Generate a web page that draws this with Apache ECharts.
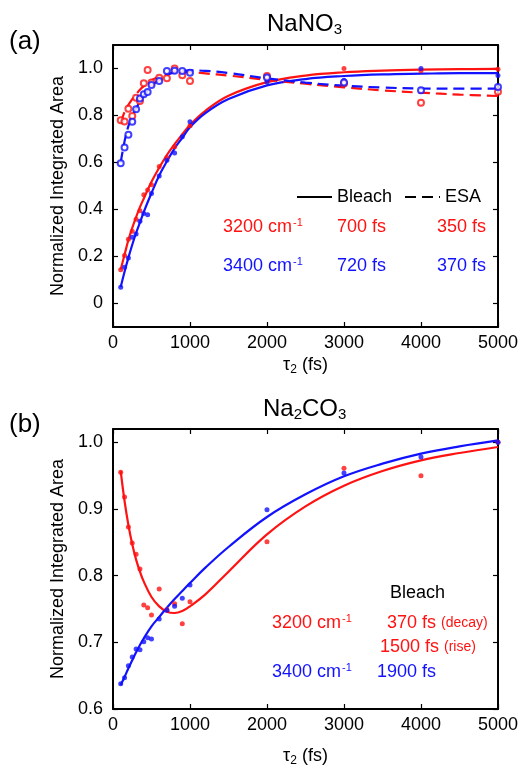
<!DOCTYPE html>
<html>
<head>
<meta charset="utf-8">
<script src="https://cdn.jsdelivr.net/npm/echarts@6/dist/echarts.min.js"></script>
<style>
  html, body { margin: 0; padding: 0; background: #fff; }
  #chart { width: 521px; height: 768px; }
</style>
</head>
<body>
<div id="chart"></div>
<script>
// ---------- Panel (a): NaNO3 ----------
// Bleach (filled dots) measured points
const bleachTimeA = [100, 150, 200, 250, 300, 350, 400, 450, 500, 600, 700, 800, 1000, 2000, 3000, 4000, 5000];
const bleach3200A = [0.144, 0.204, 0.273, 0.307, 0.358, 0.395, 0.463, 0.483, 0.505, 0.583, 0.621, 0.667, 0.756, 0.955, 1.0, 0.99, 0.997];
const bleachTimeB = [100, 150, 200, 250, 300, 350, 400, 450, 500, 600, 700, 800, 900, 1000, 2000, 3000, 4000, 5000];
const bleach3400A = [0.069, 0.154, 0.194, 0.282, 0.296, 0.350, 0.383, 0.378, 0.468, 0.543, 0.610, 0.640, 0.710, 0.773, 0.943, 0.95, 1.0, 0.97];

// ESA (open circles) measured points
const esaTime = [100, 150, 200, 250, 300, 350, 400, 450, 500, 600, 700, 800, 900, 1000, 2000, 3000, 4000, 5000];
const esa3200A = [0.78, 0.774, 0.829, 0.798, 0.876, 0.862, 0.937, 0.994, 0.94, 0.961, 0.958, 1.0, 0.971, 0.947, 0.968, 0.936, 0.854, 0.901];
const esa3400A = [0.597, 0.664, 0.718, 0.773, 0.827, 0.872, 0.89, 0.90, 0.93, 0.947, 0.989, 0.99, 0.989, 0.982, 0.962, 0.94, 0.907, 0.921];

// Fitted curves
const fitTimeA = [100, 150, 200, 250, 300, 350, 400, 500, 600, 700, 800, 900, 1000, 1200, 1500, 2000, 2500, 3000, 3500, 4000, 4500, 5000];
const fitBleach3200A = [0.145, 0.208, 0.27, 0.322, 0.368, 0.41, 0.447, 0.518, 0.578, 0.632, 0.678, 0.72, 0.76, 0.82, 0.884, 0.942, 0.97, 0.984, 0.991, 0.995, 0.997, 0.998];
const fitBleach3400A = [0.07, 0.135, 0.195, 0.25, 0.3, 0.345, 0.39, 0.47, 0.545, 0.605, 0.66, 0.705, 0.75, 0.81, 0.87, 0.928, 0.955, 0.968, 0.975, 0.978, 0.98, 0.98];
const fitEsa3200A = [0.77, 0.815, 0.845, 0.87, 0.89, 0.91, 0.925, 0.95, 0.966, 0.976, 0.982, 0.984, 0.984, 0.979, 0.97, 0.952, 0.935, 0.92, 0.907, 0.897, 0.889, 0.883];
const fitEsa3400A = [0.6, 0.69, 0.755, 0.795, 0.83, 0.86, 0.885, 0.925, 0.953, 0.972, 0.984, 0.99, 0.992, 0.99, 0.981, 0.958, 0.94, 0.927, 0.919, 0.915, 0.914, 0.914];

// ---------- Panel (b): Na2CO3 ----------
const timeB = [100, 150, 200, 250, 300, 350, 400, 450, 500, 600, 700, 800, 900, 1000, 2000, 3000, 4000, 5000];
const bleach3200B = [0.955, 0.918, 0.873, 0.849, 0.832, 0.810, 0.756, 0.752, 0.741, 0.780, 0.749, 0.758, 0.728, 0.761, 0.851, 0.961, 0.950, 1.0];
const bleach3400B = [0.638, 0.647, 0.665, 0.678, 0.690, 0.689, 0.701, 0.707, 0.705, 0.735, 0.748, 0.754, 0.766, 0.786, 0.899, 0.954, 0.978, 1.0];

const fitTimeB = [100, 150, 200, 250, 300, 350, 400, 500, 600, 700, 800, 900, 1000, 1200, 1500, 2000, 2500, 3000, 3500, 4000, 4500, 5000];
const fit3200B = [0.957, 0.912, 0.876, 0.847, 0.824, 0.806, 0.791, 0.768, 0.754, 0.746, 0.744, 0.747, 0.754, 0.772, 0.806, 0.862, 0.904, 0.935, 0.957, 0.973, 0.984, 0.993];
const fit3400B = [0.636, 0.648, 0.661, 0.673, 0.685, 0.696, 0.706, 0.724, 0.738, 0.752, 0.765, 0.777, 0.789, 0.812, 0.843, 0.888, 0.922, 0.949, 0.968, 0.983, 0.994, 1.003];

// Axis tick values
const xTicks = [0, 1000, 2000, 3000, 4000, 5000];
const yTicksA = [0, 0.2, 0.4, 0.6, 0.8, 1.0];
const yTicksB = [0.6, 0.7, 0.8, 0.9, 1.0];

const RED = '#ff1212';
const BLUE = '#1212ff';
const FONT = 'Liberation Sans, Arial, sans-serif';

const zip = (xs, ys) => xs.map((x, i) => [x, ys[i]]);

const chart = echarts.init(document.getElementById('chart'), null, { renderer: 'canvas' });

const frameLine = { show: true, onZero: false, lineStyle: { color: '#000', width: 2 } };
const tickIn = { show: true, inside: true, length: 5, lineStyle: { color: '#000', width: 1.2 } };

function xAxes(gridIndex, nameGap) {
  return [
    {
      type: 'value', gridIndex, position: 'bottom', min: 0, max: 5000,
      axisLine: frameLine,
      axisTick: Object.assign({ customValues: xTicks }, tickIn),
      axisLabel: { customValues: xTicks, formatter: v => String(v), color: '#000', fontSize: 18, fontFamily: FONT, margin: 7 },
      splitLine: { show: false },
      name: '{a|τ}{s|2}{a| (fs)}', nameLocation: 'middle', nameGap,
      nameTextStyle: {
        color: '#000', fontFamily: FONT,
        rich: {
          a: { fontSize: 18, fontFamily: FONT, color: '#000' },
          s: { fontSize: 12, fontFamily: FONT, color: '#000', padding: [9, 0, 0, 0] }
        }
      }
    },
    {
      type: 'value', gridIndex, position: 'top', min: 0, max: 5000,
      axisLine: frameLine,
      axisTick: Object.assign({ customValues: xTicks }, tickIn),
      axisLabel: { show: false },
      splitLine: { show: false }
    }
  ];
}

function yAxes(gridIndex, min, max, ticks, fmt) {
  return [
    {
      type: 'value', gridIndex, position: 'left', min, max,
      axisLine: frameLine,
      axisTick: Object.assign({ customValues: ticks }, tickIn),
      axisLabel: { customValues: ticks, formatter: fmt, color: '#000', fontSize: 18, fontFamily: FONT, margin: 10 },
      splitLine: { show: false },
      name: 'Normalized Integrated Area', nameLocation: 'middle', nameGap: 44,
      nameTextStyle: { color: '#000', fontSize: 18, fontFamily: FONT }
    },
    {
      type: 'value', gridIndex, position: 'right', min, max,
      axisLine: frameLine,
      axisTick: Object.assign({ customValues: ticks }, tickIn),
      axisLabel: { show: false },
      splitLine: { show: false }
    }
  ];
}

function fitLine(name, xi, yi, xs, ys, color, dashed) {
  return {
    name, type: 'line', xAxisIndex: xi, yAxisIndex: yi,
    data: zip(xs, ys), smooth: 0.4, showSymbol: false, symbol: 'none',
    lineStyle: { color, width: 2.2, type: dashed ? [11, 6] : 'solid' },
    z: 3, silent: true
  };
}

function dots(name, xi, yi, xs, ys, color, open) {
  return {
    name, type: 'scatter', xAxisIndex: xi, yAxisIndex: yi,
    data: zip(xs, ys),
    symbol: open ? 'emptyCircle' : 'circle',
    symbolSize: open ? 6 : 5,
    itemStyle: open ? { color, borderWidth: 1.6 } : { color },
    z: 4, silent: true
  };
}

const sup = { fontSize: 11, fontFamily: FONT, padding: [0, 0, 9, 1] };
function label(text, x, y, color, size, extraRich) {
  return {
    type: 'text', x, y,
    style: {
      text, fill: color, font: `${size}px ${FONT}`, verticalAlign: 'middle',
      rich: Object.assign({
        t: { fontSize: size, fontFamily: FONT, fill: color, color },
        p: Object.assign({ fill: color, color }, sup),
        s: { fontSize: Math.round(size * 0.62), fontFamily: FONT, fill: color, color, padding: [size * 0.5, 0, 0, 0] }
      }, extraRich || {})
    },
    silent: true
  };
}

const option = {
  backgroundColor: '#fff',
  animation: false,
  grid: [
    { left: 113, top: 45, width: 386, height: 282 },
    { left: 113, top: 429, width: 386, height: 281 }
  ],
  xAxis: [...xAxes(0, 28), ...xAxes(1, 37)],
  yAxis: [
    ...yAxes(0, -0.1, 1.1, yTicksA, v => (v === 0 ? '0' : v.toFixed(1))),
    ...yAxes(1, 0.6, 1.02, yTicksB, v => v.toFixed(1))
  ],
  series: [
    dots('Bleach 3200', 0, 0, bleachTimeA, bleach3200A, RED, false),
    dots('Bleach 3400', 0, 0, bleachTimeB, bleach3400A, BLUE, false),
    dots('ESA 3200', 0, 0, esaTime, esa3200A, RED, true),
    dots('ESA 3400', 0, 0, esaTime, esa3400A, BLUE, true),
    fitLine('Bleach fit 3200', 0, 0, fitTimeA, fitBleach3200A, RED, false),
    fitLine('Bleach fit 3400', 0, 0, fitTimeA, fitBleach3400A, BLUE, false),
    fitLine('ESA fit 3200', 0, 0, fitTimeA, fitEsa3200A, RED, true),
    fitLine('ESA fit 3400', 0, 0, fitTimeA, fitEsa3400A, BLUE, true),

    dots('Na2CO3 3200', 2, 2, timeB, bleach3200B, RED, false),
    dots('Na2CO3 3400', 2, 2, timeB, bleach3400B, BLUE, false),
    fitLine('Na2CO3 fit 3200', 2, 2, fitTimeB, fit3200B, RED, false),
    fitLine('Na2CO3 fit 3400', 2, 2, fitTimeB, fit3400B, BLUE, false)
  ],
  graphic: [
    // panel tags and titles
    label('(a)', 9, 42, '#000', 26),
    label('(b)', 9, 425, '#000', 26),
    label('{t|NaNO}{s|3}', 267, 24, '#000', 24),
    label('{t|Na}{s|2}{t|CO}{s|3}', 263, 409, '#000', 24),

    // panel (a) legend
    { type: 'line', shape: { x1: 297, y1: 197, x2: 332, y2: 197 }, style: { stroke: '#000', lineWidth: 2.2 }, silent: true },
    label('Bleach', 337, 197, '#000', 18),
    { type: 'line', shape: { x1: 405, y1: 197, x2: 440, y2: 197 }, style: { stroke: '#000', lineWidth: 2.2, lineDash: [11, 6] }, silent: true },
    label('ESA', 445, 197, '#000', 18),

    // panel (a) time constants
    label('{t|3200 cm}{p|-1}', 223, 227, RED, 18),
    label('700 fs', 337, 227, RED, 18),
    label('350 fs', 437, 227, RED, 18),
    label('{t|3400 cm}{p|-1}', 223, 266, BLUE, 18),
    label('720 fs', 337, 266, BLUE, 18),
    label('370 fs', 437, 266, BLUE, 18),

    // panel (b) time constants
    label('Bleach', 390, 593, '#000', 18),
    label('{t|3200 cm}{p|-1}', 272, 623, RED, 18),
    label('{t|370 fs} {d|(decay)}', 387, 623, RED, 18, { d: { fontSize: 14, fontFamily: FONT, fill: RED, color: RED } }),
    label('{t|1500 fs} {d|(rise)}', 380, 647, RED, 18, { d: { fontSize: 14, fontFamily: FONT, fill: RED, color: RED } }),
    label('{t|3400 cm}{p|-1}', 272, 672, BLUE, 18),
    label('1900 fs', 377, 672, BLUE, 18)
  ]
};

chart.setOption(option);
</script>
</body>
</html>
